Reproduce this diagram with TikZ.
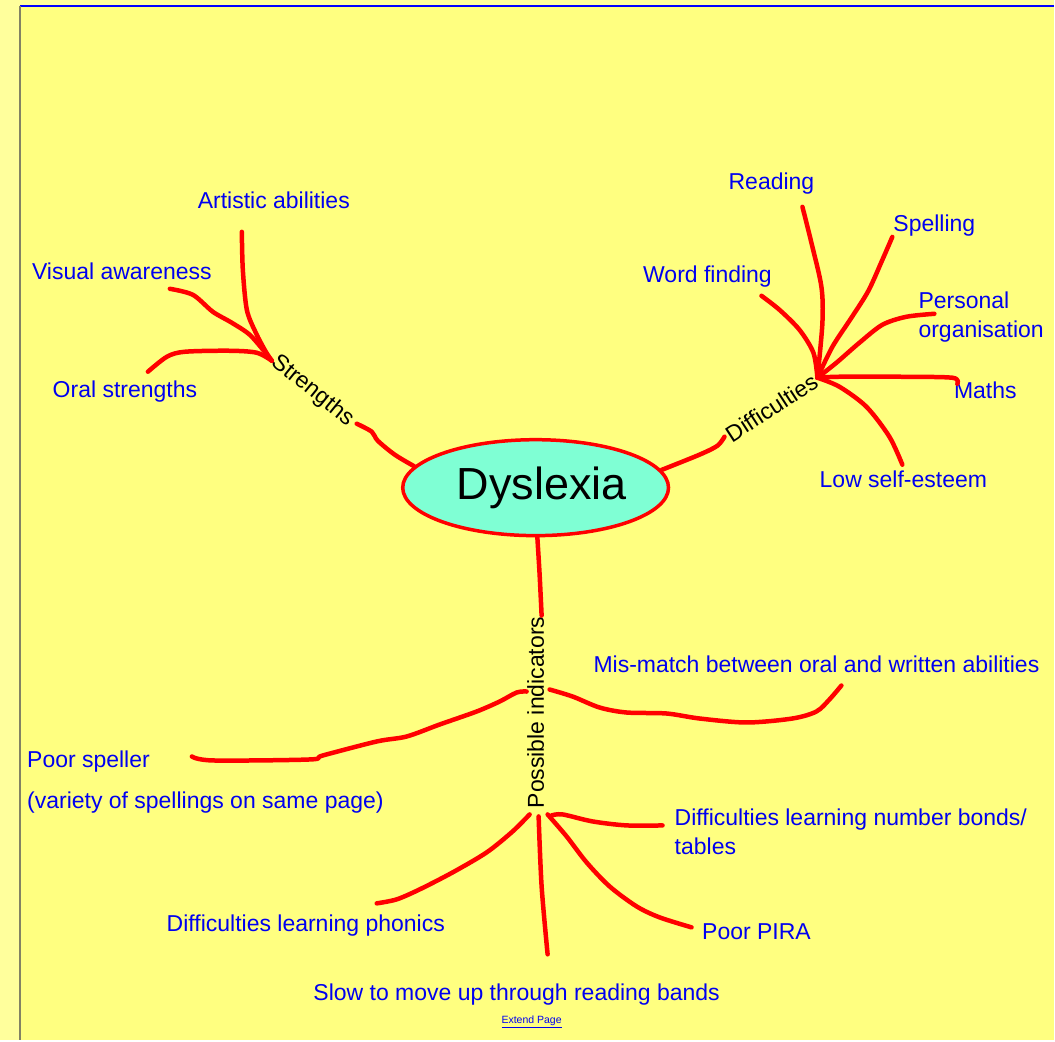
\documentclass[tikz,border=0pt]{standalone}
\usepackage{fontspec}
\setmainfont{Liberation Sans}
\usetikzlibrary{shapes.geometric}
\definecolor{pagebg}{RGB}{255,255,156}
\definecolor{panel}{RGB}{255,255,128}
\definecolor{aqua}{RGB}{127,255,212}
\definecolor{inkblue}{RGB}{0,0,240}
\definecolor{edge}{RGB}{130,130,100}
\begin{document}
\begin{tikzpicture}[x=1pt,y=-1pt,
          lf/.style={text=inkblue,font=\fontsize{23}{29}\selectfont,inner sep=0pt},
          hd/.style={font=\fontsize{23}{29}\selectfont,inner sep=0pt},
          br/.style={red,line width=4.5pt,line cap=round,line join=round}]
        \fill[pagebg] (0,0) rectangle (1055,1041);
        \fill[panel] (20,6) rectangle (1055,1041);
        \draw[blue,line width=1.5pt] (20,6) -- (1055,6);
        \draw[edge,line width=1.5pt] (20,6) -- (20,1041);
        \useasboundingbox (0,0) rectangle (1055,1041);

        \node[ellipse,draw=red,line width=3.5pt,fill=aqua,minimum width=266pt,minimum height=96pt,
              inner sep=0pt,font=\fontsize{45}{50}\selectfont] (dys) at (536,488) {\hspace{12pt}Dyslexia};

        \node[hd,rotate=-39] (str) at (313,391) {Strengths};
        \node[hd,rotate=33] (dif) at (772,408) {Difficulties};
        \node[hd,rotate=90] (pos) at (536,713) {Possible indicators};

        \node[lf,anchor=base] (art) at (274,209) {Artistic abilities};
        \node[lf,anchor=base] (vis) at (122,280) {Visual awareness};
        \node[lf,anchor=base] (oral) at (125,398) {Oral strengths};
        \node[lf,anchor=base] (read) at (772,190) {Reading};
        \node[lf,anchor=base] (spell) at (935,232) {Spelling};
        \node[lf,anchor=base] (word) at (708,283) {Word finding};
        \node[lf,anchor=west,align=left] (pers) at (919,317) {Personal\\organisation};
        \node[lf,anchor=base] (maths) at (986,399) {Maths};
        \node[lf,anchor=base] (low) at (904,488) {Low self-esteem};
        \node[lf,anchor=base] (mis) at (817,673) {Mis-match between oral and written abilities};
        \node[lf,anchor=west,align=left] (poor) at (27,783) {Poor speller\\[12pt](variety of spellings on same page)};
        \node[lf,anchor=west,align=left] (bonds) at (675,832) {Difficulties learning number bonds/\\tables};
        \node[lf,anchor=base] (phon) at (306,932) {Difficulties learning phonics};
        \node[lf,anchor=base] (pira) at (757,940) {Poor PIRA};
        \node[lf,anchor=base] (slow) at (517,1001) {Slow to move up through reading bands};
        \node[text=inkblue,font=\fontsize{10.5}{12}\selectfont,inner sep=0pt] (ext) at (532,1023) {\underline{Extend Page}};

        \coordinate (sHub) at (272,361);
        \coordinate (sFoot) at (357,424);
        \coordinate (dHub) at (818,378);
        \coordinate (dFoot) at (725,437);
        \coordinate (pTop) at (542,616);
        \coordinate (pLeft) at (527,692);
        \coordinate (pRight) at (550,690);
        \coordinate (pB1) at (530,815);
        \coordinate (pB2) at (539,817);
        \coordinate (pB3) at (548,815);
        \coordinate (pB4) at (552,816);

        \coordinate (a1) at (242,232);
        \coordinate (a2) at (170,289);
        \coordinate (a3) at (148,372);
        \coordinate (b1) at (803,207);
        \coordinate (b2) at (893,237);
        \coordinate (b3) at (762,296);
        \coordinate (b4) at (935,314);
        \coordinate (b5) at (958,384);
        \coordinate (b6) at (903,465);
        \coordinate (c1) at (192,757);
        \coordinate (c2) at (842,686);
        \coordinate (c3) at (663,826);
        \coordinate (c4) at (377,904);
        \coordinate (c5) at (548,955);
        \coordinate (c6) at (692,928);

        \draw[br] plot[smooth] coordinates {(dys.170) (395,455) (378,441) (372,432) (sFoot)};
        \draw[br] plot[smooth] coordinates {(a1) (243,270) (247,310) (256,333) (266,352) (sHub)};
        \draw[br] plot[smooth] coordinates {(a2) (193,295) (213,312) (232,323) (251,336) (sHub)};
        \draw[br] plot[smooth] coordinates {(a3) (167,357) (185,352) (230,351) (257,353) (sHub)};

        \draw[br] plot[smooth] coordinates {(dys.8) (700,455) (718,446) (dFoot)};
        \draw[br] plot[smooth] coordinates {(b1) (812,243) (822,287) (823,323) (dHub)};
        \draw[br] plot[smooth] coordinates {(b2) (883,260) (869,291) (852,318) (833,347) (dHub)};
        \draw[br] plot[smooth] coordinates {(b3) (780,310) (800,330) (814,353) (dHub)};
        \draw[br] plot[smooth] coordinates {(b4) (907,317) (883,325) (860,343) (837,363) (dHub)};
        \draw[br] plot[smooth] coordinates {(b5) (953,378) (900,377) (840,377) (dHub)};
        \draw[br] plot[smooth] coordinates {(b6) (890,437) (867,407) (840,387) (dHub)};

        \draw[br] plot[smooth] coordinates {(dys.-88) (540,575) (pTop)};
        \draw[br] plot[smooth] coordinates {(c1) (213,761) (310,760) (323,756) (377,742) (407,737) (440,725) (477,712) (500,702) (517,693) (pLeft)};
        \draw[br] plot[smooth] coordinates {(pRight) (573,697) (600,708) (627,713) (667,714) (700,719) (747,723) (793,719) (817,712) (830,700) (c2)};
        \draw[br] plot[smooth] coordinates {(pB4) (563,815) (593,822) (627,826) (c3)};
        \draw[br] plot[smooth] coordinates {(pB1) (513,832) (487,853) (453,873) (420,890) (397,900) (c4)};
        \draw[br] plot[smooth] coordinates {(pB2) (542,887) (c5)};
        \draw[br] plot[smooth] coordinates {(pB3) (567,837) (587,863) (610,887) (637,907) (660,918) (c6)};
      \end{tikzpicture}
\end{document}
